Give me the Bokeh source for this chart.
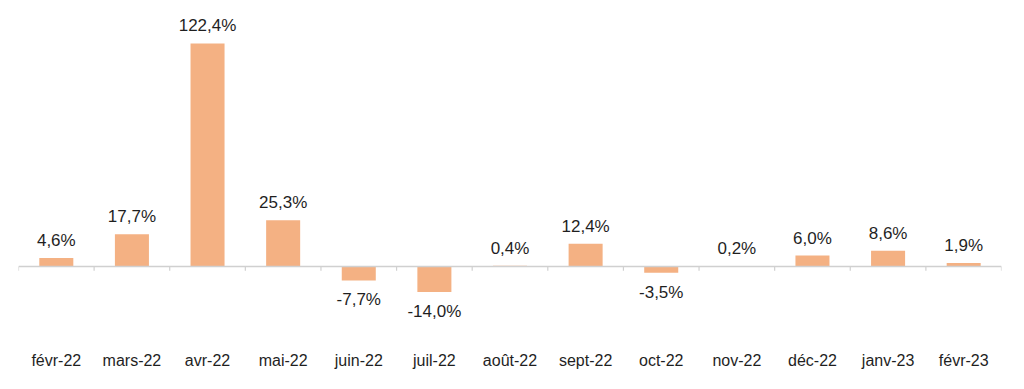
from bokeh.plotting import figure
from bokeh.models import ColumnDataSource, FactorRange, Range1d, Span
from bokeh.core.properties import value
from bokeh.embed import file_html
from bokeh.resources import INLINE

categories = ["févr-22", "mars-22", "avr-22", "mai-22", "juin-22", "juil-22", "août-22",
              "sept-22", "oct-22", "nov-22", "déc-22", "janv-23", "févr-23"]
values = [4.6, 17.7, 122.4, 25.3, -7.7, -14.0, 0.4, 12.4, -3.5, 0.2, 6.0, 8.6, 1.9]
labels = [f"{v:.1f}".replace(".", ",") + "%" for v in values]

BAR = "#F4B183"
TXT = "#1f1f1f"
FONT = "Liberation Sans"

p = figure(width=1016, height=381, x_range=FactorRange(*categories, range_padding=0),
           y_range=Range1d(-43.4, 141.6), output_backend="svg", toolbar_location=None,
           min_border_left=18, min_border_right=15, min_border_top=8, min_border_bottom=36)
p.outline_line_color = None
p.grid.visible = False
p.yaxis.visible = False
p.background_fill_color = "white"

src = ColumnDataSource(dict(x=categories, top=values, label=labels))
p.vbar(x="x", top="top", bottom=0, width=0.45, source=src, fill_color=BAR, line_color=None)

# zero line and category boundary ticks
p.add_layout(Span(location=0, dimension="width", line_color="#D0D0D0", line_width=1.5))
bounds = list(range(len(categories) + 1))
p.segment(x0=bounds, x1=bounds, y0=[0] * len(bounds), y1=[-2.4] * len(bounds),
          line_color="#D0D0D0", line_width=1.2)

pos = [i for i, v in enumerate(values) if v >= 0]
neg = [i for i, v in enumerate(values) if v < 0]
psrc = ColumnDataSource(dict(x=[categories[i] for i in pos], y=[values[i] for i in pos],
                             t=[labels[i] for i in pos]))
nsrc = ColumnDataSource(dict(x=[categories[i] for i in neg], y=[values[i] for i in neg],
                             t=[labels[i] for i in neg]))
p.text(x="x", y="y", text="t", source=psrc, text_align="center", text_baseline="bottom",
       y_offset=-8, text_font=value(FONT), text_font_size="17px", text_color=TXT)
p.text(x="x", y="y", text="t", source=nsrc, text_align="center", text_baseline="top",
       y_offset=10, text_font=value(FONT), text_font_size="17px", text_color=TXT)

ax = p.xaxis[0]
ax.axis_line_color = None
ax.major_tick_line_color = None
ax.minor_tick_line_color = None
ax.major_label_standoff = 0
ax.major_label_text_font = FONT
ax.major_label_text_font_size = "16px"
ax.major_label_text_color = TXT

open("out.html", "w").write(file_html(p, INLINE))
